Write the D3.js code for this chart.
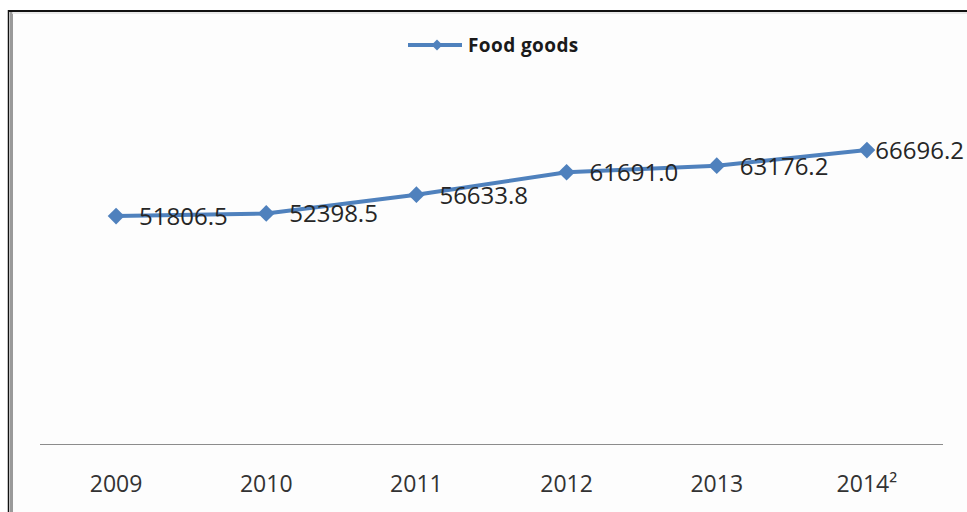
<!DOCTYPE html>
<html>
<head>
<meta charset="utf-8">
<script src="https://cdn.jsdelivr.net/npm/d3@7"></script>
<style>
  html, body { margin: 0; padding: 0; background: #fff; }
  svg { display: block; }
</style>
</head>
<body>
<svg id="chart" width="967" height="512"></svg>
<script>
const years = ["2009", "2010", "2011", "2012", "2013", "2014"];
const yearLabels = ["2009", "2010", "2011", "2012", "2013", "2014²"];
const foodGoods = [51806.5, 52398.5, 56633.8, 61691.0, 63176.2, 66696.2];
const seriesName = "Food goods";

const width = 967,
      height = 512,
      lineColor = "#4f81bd",
      textColor = "#262626";

const svg = d3.select("#chart");

// frame
svg.append("rect").attr("x", 9).attr("y", 11).attr("width", width).attr("height", height)
  .attr("fill", "#fdfdfd");
svg.append("line").attr("x1", 11.5).attr("x2", 11.5).attr("y1", 12).attr("y2", height)
  .attr("stroke", "#9a9a9a").attr("stroke-width", 3);
svg.append("line").attr("x1", 12).attr("x2", width).attr("y1", 13).attr("y2", 13)
  .attr("stroke", "#e2e2e2").attr("stroke-width", 1.5);
svg.append("line").attr("x1", 8.5).attr("x2", 8.5).attr("y1", 10).attr("y2", height)
  .attr("stroke", "#111").attr("stroke-width", 1.5);
svg.append("line").attr("x1", 8).attr("x2", width).attr("y1", 11).attr("y2", 11)
  .attr("stroke", "#111").attr("stroke-width", 2);

const x = d3.scaleBand().domain(years).range([41, 942]);
const y = d3.scaleLinear().domain([0, 80000]).range([446, 91]);
const cx = d => x(d) + x.bandwidth() / 2;

// x axis
svg.append("line").attr("x1", 40).attr("x2", 943).attr("y1", 444.5).attr("y2", 444.5)
  .attr("stroke", "#8c8c8c").attr("stroke-width", 1.2);

svg.append("g").selectAll("text").data(years).join("text")
  .attr("x", d => cx(d))
  .attr("y", 492)
  .attr("text-anchor", "middle")
  .attr("font-family", "Open Sans")
  .attr("font-size", 23)
  .attr("fill", "#333")
  .text((d, i) => yearLabels[i]);

// line
const pts = years.map((d, i) => [cx(d), y(foodGoods[i])]);
svg.append("path")
  .attr("d", d3.line()(pts))
  .attr("fill", "none")
  .attr("stroke", lineColor)
  .attr("stroke-width", 4)
  .attr("stroke-linejoin", "round");

const diamond = d3.symbol().type(d3.symbolSquare).size(140);
svg.append("g").selectAll("path").data(pts).join("path")
  .attr("d", diamond)
  .attr("transform", d => `translate(${d[0]},${d[1]}) rotate(45)`)
  .attr("fill", lineColor);

// data labels
const labels = svg.append("g").selectAll("text").data(pts).join("text")
  .attr("y", d => d[1] + 9)
  .attr("font-family", "Open Sans")
  .attr("font-size", 24)
  .attr("fill", textColor)
  .text((d, i) => foodGoods[i].toFixed(1));
labels.attr("x", function(d) {
  const w = this.getComputedTextLength();
  return Math.min(d[0] + 23, width - w - 3);
});

// legend
const lg = svg.append("g");
lg.append("line").attr("x1", 408).attr("x2", 462).attr("y1", 45).attr("y2", 45)
  .attr("stroke", lineColor).attr("stroke-width", 4);
lg.append("path").attr("d", d3.symbol().type(d3.symbolSquare).size(60))
  .attr("transform", "translate(437,45) rotate(45)")
  .attr("fill", lineColor);
lg.append("text").attr("x", 468).attr("y", 52)
  .attr("font-family", "Open Sans")
  .attr("font-weight", "bold")
  .attr("font-size", 19)
  .attr("letter-spacing", 0.4)
  .attr("fill", "#1a1a1a")
  .text(seriesName);
</script>
</body>
</html>
